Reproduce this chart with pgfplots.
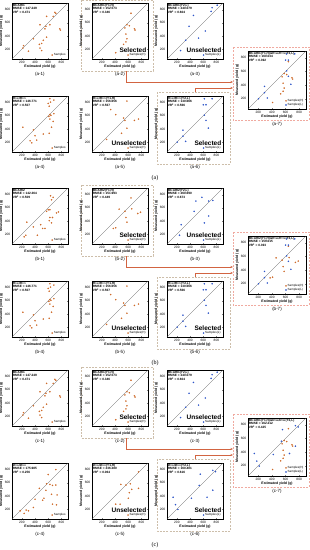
\documentclass[border=0pt]{standalone}
\usepackage{fontspec}
\setmainfont{Liberation Sans}
\newfontfamily\seriffont{Liberation Serif}
\usepackage{pgfplots}
\usepackage{pgfplotstable}
\pgfplotsset{compat=1.18}
\usetikzlibrary{arrows.meta}

\definecolor{cH}{RGB}{205,105,40}
\definecolor{cL}{RGB}{45,85,200}
\definecolor{cFrame}{RGB}{205,190,170}
\definecolor{cFrameS}{RGB}{240,170,160}
\definecolor{cArrow}{RGB}{210,100,65}

\pgfplotsset{
 pan/.style={anchor=north west, width=112pt, height=112pt, scale only axis,
  xmin=50,xmax=900,ymin=50,ymax=900,
  xtick={200,400,600,800}, ytick={200,400,600,800},
  tick label style={font=\fontsize{6.5}{7}\selectfont},
  /pgf/number format/assume math mode=true,
  xlabel={Estimated yield (g)}, ylabel={Measured yield (g)},
  label style={font=\bfseries\fontsize{7}{8}\selectfont},
  xlabel style={yshift=3pt}, ylabel style={yshift=-3pt},
  tick align=inside, major tick length=2pt,
  axis line style={line width=0.6pt},
  clip=false,
  legend style={at={(0.98,0.02)},anchor=south east, draw=none, fill=none,
    font=\fontsize{6}{7}\selectfont, inner sep=0.5pt, row sep=-1.5pt},
  legend cell align=left,
 },
 pan7/.style={pan, width=116pt, height=116pt},
 ptH/.style={only marks, mark=*, mark size=1.3pt, color=cH},
 ptL/.style={only marks, mark=*, mark size=1.3pt, color=cL},
 diag/.style={gray!70!black, line width=0.6pt, forget plot},
}
\newcommand{\info}[3]{\node[anchor=north west, align=left, font=\bfseries\fontsize{6.3}{7.3}\selectfont, inner sep=1.5pt] at (rel axis cs:0,1) {#1\\RMSE = #2\\VR\textsuperscript{2} = #3};}
\newcommand{\pcap}[1]{\node[font=\fontsize{9}{10}\selectfont] at (rel axis cs:0.5,-0.27) {#1};}
\newcommand{\sel}[2][0.1]{\node[anchor=south east, font=\bfseries\fontsize{13}{14}\selectfont, inner sep=1pt] at (rel axis cs:0.98,#1) {#2};}
\newcommand{\RR}{R\textsubscript{740}/R\textsubscript{770}}
\newcommand{\DD}{D\textsubscript{705}/D\textsubscript{722}}

\pgfplotstableread{
x y
700 758
715 744
575 697
675 697
475 570
625 570
565 546
550 508
775 508
785 489
375 357
575 381
500 286
465 272
525 334
225 253
215 216
475 216
300 168
500 178
}\tAone
\pgfplotstableread{
x y
642 744
580 570
617 555
550 522
694 508
704 489
565 428
580 357
565 310
529 272
410 145
}\tAtwo
\pgfplotstableread{
x y
735 829
812 867
720 773
452 711
385 546
632 475
333 334
529 367
256 178
}\tAthree
\pgfplotstableread{
x y
625 859
685 838
600 787
635 807
615 745
625 617
610 591
640 606
685 632
625 550
675 514
650 426
615 334
525 323
375 385
215 426
400 297
325 220
350 189
425 230
}\tAfour
\pgfplotstableread{
x y
580 823
333 694
410 617
529 565
550 529
694 529
756 550
580 411
498 334
271 241
}\tAfive
\pgfplotstableread{
x y
617 858
735 858
601 767
642 767
617 609
642 529
678 412
292 381
292 290
205 200
333 211
}\tAsix
\pgfplotstableread{
x y
635 782
675 758
650 721
600 570
575 546
625 570
725 522
755 537
625 452
615 404
650 371
485 343
515 286
550 286
275 381
260 183
235 159
435 183
665 452
375 310
}\tBone
\pgfplotstableread{
x y
642 749
462 579
550 546
653 584
745 513
786 532
565 452
580 381
410 296
374 286
}\tBtwo
\pgfplotstableread{
x y
580 758
683 702
488 702
745 711
462 546
683 475
617 371
266 343
240 183
}\tBthree
\pgfplotstableread{
x y
715 800
600 725
575 585
625 575
665 560
715 565
465 515
565 485
650 425
735 415
535 365
515 335
400 350
665 275
725 265
375 225
265 185
235 135
300 175
175 175
}\tCfour
\pgfplotstableread{
x y
756 765
488 575
565 565
632 585
653 500
617 450
756 515
601 365
477 275
410 275
}\tCfive
\pgfplotstableread{
x y
745 788
786 769
555 730
539 560
745 487
658 380
421 365
143 380
179 268
215 195
}\tCsix

\newcommand{\frames}[1]{%
\begin{scope}[yshift=#1]
\draw[cFrame, line width=0.9pt, dash pattern=on 4pt off 2.5pt] (162,0) rectangle (306,-142);
\draw[cFrame, line width=0.9pt, dash pattern=on 4pt off 2.5pt] (314,-184) rectangle (460,-328);
\draw[cFrameS, line width=0.9pt, dash pattern=on 4pt off 2.5pt] (466,-94) rectangle (618,-240);
\draw[cArrow, line width=1pt, -{Stealth[length=5pt,width=4pt]}] (252,-142) -- (252,-164) -- (466,-164);
\draw[cArrow, line width=1pt, -{Stealth[length=5pt,width=4pt]}] (390,-184) -- (390,-176) -- (466,-176);
\end{scope}}

\begin{document}
\begin{tikzpicture}[x=1pt,y=1pt]
\path[use as bounding box] (0,0) rectangle (620,-1100);
\frames{0pt}
\frames{-370pt}
\frames{-734pt}
\node[font=\seriffont\fontsize{12}{13}\selectfont] at (310,-356) {(a)};
\node[font=\seriffont\fontsize{12}{13}\selectfont] at (310,-726) {(b)};
\node[font=\seriffont\fontsize{12}{13}\selectfont] at (310,-1090) {(c)};

% ---------------- group a
\begin{axis}[pan, at={(24pt,-6pt)}]
\addplot[diag] coordinates {(50,50)(900,900)};
\addplot[ptH] table {\tAone}; \addlegendentry{Samples}
\info{MCARI1}{147.249}{0.471}\pcap{(a-1)}
\end{axis}
\begin{axis}[pan, at={(184pt,-6pt)}]
\addplot[diag] coordinates {(50,50)(900,900)};
\addplot[ptH] table {\tAtwo}; \addlegendentry{Samples(H)}
\info{MCARI1(Y1,H)}{152.573}{0.346}\sel{Selected}\pcap{(a-2)}
\end{axis}
\begin{axis}[pan, at={(334pt,-6pt)}]
\addplot[diag] coordinates {(50,50)(900,900)};
\addplot[ptL] table {\tAthree}; \addlegendentry{Samples(L)}
\info{MCARI1(Y2,L)}{240.079}{0.604}\sel{Unselected}\pcap{(a-3)}
\end{axis}
\begin{axis}[pan, at={(24pt,-192pt)}]
\addplot[diag] coordinates {(50,50)(900,900)};
\addplot[ptH] table {\tAfour}; \addlegendentry{Samples}
\info{\RR}{146.771}{0.507}\pcap{(a-4)}
\end{axis}
\begin{axis}[pan, at={(184pt,-192pt)}]
\addplot[diag] coordinates {(50,50)(900,900)};
\addplot[ptH] table {\tAfive}; \addlegendentry{Samples(H)}
\info{\RR(Y1,H)}{156.656}{0.567}\sel{Unselected}\pcap{(a-5)}
\end{axis}
\begin{axis}[pan, at={(334pt,-192pt)}]
\addplot[diag] coordinates {(50,50)(900,900)};
\addplot[ptL] table {\tAsix}; \addlegendentry{Samples(L)}
\info{\RR(Y2,L)}{130.666}{0.566}\sel{Selected}\pcap{(a-6)}
\end{axis}
\begin{axis}[pan7, at={(496pt,-102pt)}]
\addplot[diag] coordinates {(50,50)(900,900)};
\addplot[ptH] table {\tAtwo}; \addlegendentry{Samples(H)}
\addplot[ptL] table {\tAsix}; \addlegendentry{Samples(L)}
\info{MCARI1(Y1,H)\&\RR(Y2,L)}{160.034}{0.392}\pcap{(a-7)}
\end{axis}

% ---------------- group b
\begin{axis}[pan, at={(24pt,-376pt)}]
\addplot[diag] coordinates {(50,50)(900,900)};
\addplot[ptH] table {\tBone}; \addlegendentry{Samples}
\info{MCARI2}{142.364}{0.509}\pcap{(b-1)}
\end{axis}
\begin{axis}[pan, at={(184pt,-376pt)}]
\addplot[diag] coordinates {(50,50)(900,900)};
\addplot[ptH] table {\tBtwo}; \addlegendentry{Samples(H)}
\info{MCARI2(Y1,H)}{151.993}{0.449}\sel{Selected}\pcap{(b-2)}
\end{axis}
\begin{axis}[pan, at={(334pt,-376pt)}]
\addplot[diag] coordinates {(50,50)(900,900)};
\addplot[ptL] table {\tBthree}; \addlegendentry{Samples(L)}
\info{MCARI2(Y2,L)}{260.690}{0.673}\sel{Unselected}\pcap{(b-3)}
\end{axis}
\begin{axis}[pan, at={(24pt,-562pt)}]
\addplot[diag] coordinates {(50,50)(900,900)};
\addplot[ptH] table {\tAfour}; \addlegendentry{Samples}
\info{\RR}{146.771}{0.507}\pcap{(b-4)}
\end{axis}
\begin{axis}[pan, at={(184pt,-562pt)}]
\addplot[diag] coordinates {(50,50)(900,900)};
\addplot[ptH] table {\tAfive}; \addlegendentry{Samples(H)}
\info{\RR(Y1,H)}{156.656}{0.567}\sel{Unselected}\pcap{(b-5)}
\end{axis}
\begin{axis}[pan, at={(334pt,-562pt)}]
\addplot[diag] coordinates {(50,50)(900,900)};
\addplot[ptL] table {\tAsix}; \addlegendentry{Samples(L)}
\info{\RR(Y2,L)}{130.666}{0.566}\sel{Selected}\pcap{(b-6)}
\end{axis}
\begin{axis}[pan7, at={(496pt,-472pt)}]
\addplot[diag] coordinates {(50,50)(900,900)};
\addplot[ptH] table {\tBtwo}; \addlegendentry{Samples(H)}
\addplot[ptL] table {\tAsix}; \addlegendentry{Samples(L)}
\info{MCARI2(Y1,H)\&\RR(Y2,L)}{159.015}{0.393}\pcap{(b-7)}
\end{axis}

% ---------------- group c
\begin{axis}[pan, at={(24pt,-740pt)}]
\addplot[diag] coordinates {(50,50)(900,900)};
\addplot[ptH] table {\tAone}; \addlegendentry{Samples}
\info{MCARI1}{147.249}{0.471}\pcap{(c-1)}
\end{axis}
\begin{axis}[pan, at={(184pt,-740pt)}]
\addplot[diag] coordinates {(50,50)(900,900)};
\addplot[ptH] table {\tAtwo}; \addlegendentry{Samples(H)}
\info{MCARI1(Y1,H)}{152.573}{0.346}\sel{Selected}\pcap{(c-2)}
\end{axis}
\begin{axis}[pan, at={(334pt,-740pt)}]
\addplot[diag] coordinates {(50,50)(900,900)};
\addplot[ptL] table {\tAthree}; \addlegendentry{Samples(L)}
\info{MCARI1(Y2,L)}{240.079}{0.604}\sel{Unselected}\pcap{(c-3)}
\end{axis}
\begin{axis}[pan, at={(24pt,-926pt)}]
\addplot[diag] coordinates {(50,50)(900,900)};
\addplot[ptH] table {\tCfour}; \addlegendentry{Samples}
\info{\DD}{175.985}{0.256}\pcap{(c-4)}
\end{axis}
\begin{axis}[pan, at={(184pt,-926pt)}]
\addplot[diag] coordinates {(50,50)(900,900)};
\addplot[ptH] table {\tCfive}; \addlegendentry{Samples(H)}
\info{\DD(Y1,H)}{236.380}{0.064}\sel{Unselected}\pcap{(c-5)}
\end{axis}
\begin{axis}[pan, at={(334pt,-926pt)}]
\addplot[diag] coordinates {(50,50)(900,900)};
\addplot[ptL] table {\tCsix}; \addlegendentry{Samples(L)}
\info{\DD(Y2,L)}{160.401}{0.616}\sel{Selected}\pcap{(c-6)}
\end{axis}
\begin{axis}[pan7, at={(496pt,-836pt)}]
\addplot[diag] coordinates {(50,50)(900,900)};
\addplot[ptH] table {\tAtwo}; \addlegendentry{Samples(H)}
\addplot[ptL] table {\tCsix}; \addlegendentry{Samples(L)}
\info{MCARI1(Y1,H)\&\DD(Y2,L)}{162.212}{0.425}\pcap{(c-7)}
\end{axis}
\end{tikzpicture}
\end{document}
